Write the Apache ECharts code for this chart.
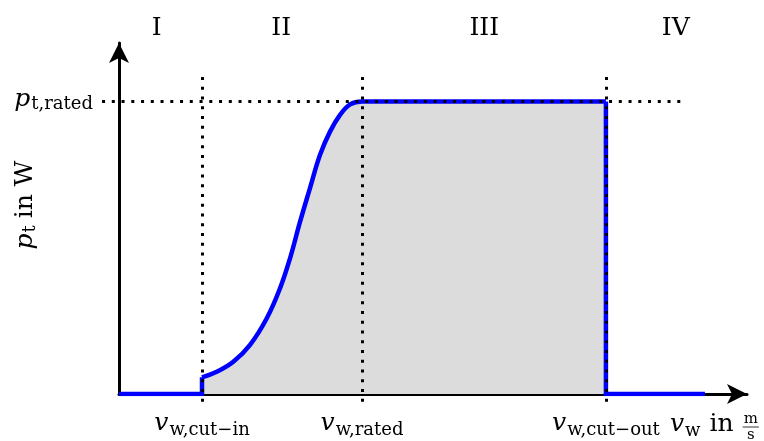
<!DOCTYPE html>
<html><head><meta charset="utf-8">
<script src="https://cdn.jsdelivr.net/npm/echarts@6/dist/echarts.min.js"></script>
<style>html,body{margin:0;padding:0;background:#fff}#c{width:764px;height:441px}</style>
</head><body><div id="c"></div>
<script>
// ---- data ----
const boundaryNames = ['cut\u2212in', 'rated', 'cut\u2212out'];
const boundarySpeeds = [3.965, 11.61, 23.26];
const ratedPower = 1.0;
const cutInPower = 0.057;
const curveSpeeds = [3.965, 4.67, 5.46, 6.26, 7.06, 7.69, 8.17, 8.65, 9.12, 9.60, 10.08, 10.56, 11.04, 11.61, 23.26];
const curvePowers = [0.057, 0.076, 0.110, 0.168, 0.259, 0.361, 0.464, 0.589, 0.703, 0.817, 0.897, 0.954, 0.990, 1.0, 1.0];
const stopSpeed = 27.99;
const regionNames = ['I', 'II', 'III', 'IV'];
const regionCenters = [1.8, 7.75, 17.45, 26.6];

// ---- chart ----
const FONT = '"DejaVu Serif", serif';
const chart = echarts.init(document.getElementById('c'), null, {renderer: 'canvas'});
const BLUE = '#0000ff';
const dotStyle = {color: '#000', width: 3, type: [3, 6.75], cap: 'butt', opacity: 1};

const curveData = curveSpeeds.map((v, i) => [v, curvePowers[i]]);
const cutIn = boundarySpeeds[0], rated = boundarySpeeds[1], cutOut = boundarySpeeds[2];

const guideLines = boundarySpeeds.map(x => ({coords: [[x, 1.084], [x, -0.03]]}))
  .concat([{coords: [[-0.81, ratedPower], [26.9, ratedPower]]}]);

chart.setOption({
  animation: false,
  grid: {left: 119, right: 17, top: 43, bottom: 47},
  xAxis: {
    type: 'value', min: 0, max: 30,
    axisLine: {show: true, onZero: false, symbol: ['none', 'arrow'], symbolSize: [15, 20],
      lineStyle: {color: '#000', width: 3}},
    axisTick: {show: false}, axisLabel: {show: false}, splitLine: {show: false}
  },
  yAxis: {
    type: 'value', min: 0, max: 1.2,
    axisLine: {show: true, onZero: false, symbol: ['none', 'arrow'], symbolSize: [15, 20],
      lineStyle: {color: '#000', width: 3}},
    axisTick: {show: false}, axisLabel: {show: false}, splitLine: {show: false}
  },
  series: [
    {
      type: 'line', data: curveData, smooth: 0.4, showSymbol: false,
      lineStyle: {color: BLUE, width: 4.5}, areaStyle: {color: '#dcdcdc', opacity: 1}, z: 3
    },
    {
      type: 'line', data: [[0, 0], [cutIn, 0], [cutIn, cutInPower]], showSymbol: false,
      lineStyle: {color: BLUE, width: 4.5, join: 'miter'}, z: 3
    },
    {
      type: 'line', data: [[cutOut, ratedPower], [cutOut, 0], [stopSpeed, 0]], showSymbol: false,
      lineStyle: {color: BLUE, width: 4.5, join: 'miter'}, z: 3
    },
    {
      type: 'lines', coordinateSystem: 'cartesian2d', polyline: false, clip: false, silent: true,
      lineStyle: dotStyle, data: guideLines, z: 5, effect: {show: false}
    }
  ]
});

// ---- math-like labels ----
const ctx = document.createElement('canvas').getContext('2d');
function fontStr(size, italic) { return (italic ? 'italic ' : '') + size + 'px ' + FONT; }
function measure(t, size, italic) { ctx.font = fontStr(size, italic); return ctx.measureText(t).width; }
function midOffset(size, italic) {
  ctx.font = fontStr(size, italic);
  ctx.textBaseline = 'alphabetic';
  const a1 = ctx.measureText('H').actualBoundingBoxAscent;
  ctx.textBaseline = 'middle';
  const a2 = ctx.measureText('H').actualBoundingBoxAscent;
  ctx.textBaseline = 'alphabetic';
  return a1 - a2;
}
function textEl(t, x, baseline, size, italic) {
  return {
    type: 'text', x: x, y: baseline - midOffset(size, italic), silent: true,
    style: {text: t, font: fontStr(size, italic), fill: '#000',
      align: 'left', textAlign: 'left', verticalAlign: 'middle', textVerticalAlign: 'middle'}
  };
}
// parts: {t, size, italic, dy, gap}
function mathGroup(parts, px, py, align, rotation) {
  let w = 0;
  const widths = parts.map(p => { const ww = measure(p.t, p.size, p.italic); w += (p.gap || 0) + ww; return ww; });
  let x = align === 'center' ? -w / 2 : (align === 'right' ? -w : 0);
  const children = [];
  parts.forEach((p, i) => {
    x += (p.gap || 0);
    children.push(textEl(p.t, x, p.dy || 0, p.size, p.italic));
    x += widths[i];
  });
  return {type: 'group', x: px, y: py, rotation: rotation || 0, children: children, width: w};
}

function drawLabels() {
  const toPx = (x, y) => chart.convertToPixel({gridIndex: 0}, [x, y]);
  const axisY = toPx(0, 0)[1];
  const g = [];
  const MAIN = 25, SUB = 18, SUBDY = 5;
  // x tick labels
  boundarySpeeds.forEach((s, i) => {
    const px = toPx(s, 0)[0];
    g.push(mathGroup([
      {t: 'v', size: MAIN, italic: true},
      {t: 'w,' + boundaryNames[i], size: SUB, italic: false, dy: SUBDY, gap: 1}
    ], px, axisY + 36, 'center'));
  });
  // x axis name
  const nameX = 670, nameY = axisY + 37;
  const ng = mathGroup([
    {t: 'v', size: MAIN, italic: true},
    {t: 'w', size: SUB, italic: false, dy: SUBDY, gap: 1},
    {t: 'in', size: MAIN, italic: false, gap: 9}
  ], nameX, nameY, 'left');
  g.push(ng);
  const FS = 15;
  const fx = nameX + ng.width + 10;
  const fw = measure('m', FS, false);
  const barY = nameY - 4;
  g.push(textEl('m', fx, barY - 4, FS, false));
  g.push(textEl('s', fx + (fw - measure('s', FS, false)) / 2, barY + 12, FS, false));
  g.push({type: 'line', silent: true, shape: {x1: fx - 1, y1: barY, x2: fx + fw + 1, y2: barY},
    style: {stroke: '#000', lineWidth: 0.8}});
  // rated power label
  const ry = toPx(0, ratedPower)[1];
  g.push(mathGroup([
    {t: 'p', size: MAIN, italic: true},
    {t: 't,rated', size: SUB, italic: false, dy: 3, gap: 1}
  ], 93, ry + 4, 'right'));
  // y axis name
  g.push(mathGroup([
    {t: 'p', size: MAIN, italic: true},
    {t: 't', size: SUB, italic: false, dy: 3, gap: 1},
    {t: 'in W', size: MAIN, italic: false, gap: 7}
  ], 32, 205, 'center', Math.PI / 2));
  // region labels
  regionNames.forEach((n, i) => {
    const px = toPx(regionCenters[i], 0)[0];
    g.push(mathGroup([{t: n, size: MAIN, italic: false}], px, 35, 'center'));
  });
  chart.setOption({graphic: {elements: g}});
}
drawLabels();
</script></body></html>
